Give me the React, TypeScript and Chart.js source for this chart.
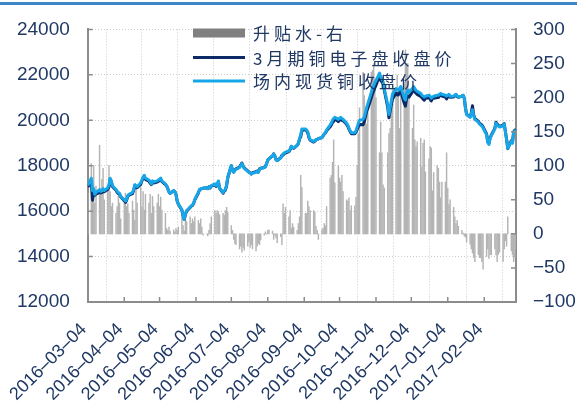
import React, { useEffect, useRef } from 'react';
import { Chart, registerables } from 'chart.js';

Chart.register(...registerables);

// ---- categories / labels ----
const SERIES_NAMES = ['升贴水-右', '3月期铜电子盘收盘价', '场内现货铜收盘价'];
const START_DATE = '2016-03-04';
const END_DATE = '2017-03-03';
const TICK_DATES = [
  '2016-03-04', '2016-04-04', '2016-05-04', '2016-06-04', '2016-07-04', '2016-08-04',
  '2016-09-04', '2016-10-04', '2016-11-04', '2016-12-04', '2017-01-04', '2017-02-04',
];

// ---- series: one value per weekday from START_DATE to END_DATE ----
const SPOT = [
  // 2016-03
  17120, 17450, 16900, 16990, 16740, 16820, 16950, 16860, 16900, 16990, 16900, 17030, 17160, 17450, 17330, 17120, 16950, 16860, 16820, 16780,
  // 2016-04
  16650, 16500, 16440, 16520, 16690, 16735, 16820, 16950, 17160, 17120, 17075, 17245, 17370, 17500, 17580, 17455, 17370, 17285, 17200, 17330, 17285,
  // 2016-05
  17330, 17370, 17410, 17455, 17330, 17200, 17120, 16990, 16860, 16780, 16905, 16860, 16735, 16440, 16310, 16060, 15800, 15630, 15890, 16015, 16185, 16230,
  // 2016-06
  16270, 16355, 16520, 16820, 16950, 16990, 17000, 17010, 17030, 16990, 17075, 17030, 17120, 17200, 17120, 17160, 17330, 17030, 16820, 16905, 16950, 17160,
  // 2016-07
  17500, 18010, 17795, 17710, 17795, 17840, 17920, 18010, 18090, 17965, 17880, 17755, 17710, 17670, 17625, 17670, 17710, 17755, 17710, 17840, 17880,
  // 2016-08
  17920, 17965, 18090, 18260, 18305, 18430, 18515, 18430, 18260, 18220, 18345, 18430, 18515, 18560, 18600, 18645, 18730, 18855, 18815, 18770, 18900, 18985, 19195,
  // 2016-09
  19365, 19620, 19620, 19575, 19490, 19280, 19150, 19070, 19110, 19150, 19150, 19190, 19235, 19320, 19405, 19450, 19575, 19790, 19875, 20000, 20085, 20130,
  // 2016-10
  20040, 20085, 20130, 20085, 20040, 19875, 19790, 19660, 19535, 19450, 19450, 19535, 19705, 19875, 20000, 20040, 20130, 20340, 20550, 20720, 21230,
  // 2016-11
  21400, 21525, 21655, 21740, 22080, 21910, 21825, 21695, 21400, 20680, 20255, 20550, 20850, 21145, 21400, 21355, 21315, 21400, 21485, 20975, 20890, 21230,
  // 2016-12
  21315, 21230, 21400, 21485, 21400, 21315, 21270, 21185, 21100, 21060, 21020, 21060, 21100, 21060, 20975, 21020, 21060, 21100, 21100, 21145, 21185, 21145,
  // 2017-01
  21100, 21060, 21100, 21145, 21060, 21060, 21100, 21145, 21060, 21020, 21060, 21100, 20975, 20550, 20255, 20130, 20300, 20465, 20210, 20040, 19915, 19830,
  // 2017-02
  19790, 19745, 19660, 19365, 19025, 18940, 19195, 19320, 19620, 19875, 19790, 19745, 19705, 19745, 19830, 19490, 19150, 18770, 19070, 18985,
  // 2017-03
  19450, 19535, 19490,
];

const FUTURES = [
  // 2016-03
  17060, 17300, 16480, 16850, 16700, 16750, 16820, 16800, 16820, 16890, 16850, 16960, 17060, 17390, 17290, 17080, 16920, 16820, 16770, 16740,
  // 2016-04
  16630, 16460, 16380, 16480, 16650, 16700, 16770, 16910, 17140, 17050, 17030, 17180, 17330, 17440, 17540, 17400, 17320, 17230, 17170, 17280, 17240,
  // 2016-05
  17280, 17310, 17370, 17400, 17300, 17170, 17110, 16990, 16850, 16780, 16900, 16860, 16730, 16440, 16300, 16040, 15790, 15630, 15870, 16000, 16160, 16220,
  // 2016-06
  16250, 16340, 16500, 16800, 16940, 16970, 16990, 17010, 17030, 16990, 17070, 17020, 17100, 17170, 17090, 17130, 17300, 17000, 16790, 16880, 16920, 17120,
  // 2016-07
  17470, 18000, 17790, 17720, 17810, 17860, 17940, 18030, 18120, 17990, 17900, 17770, 17720, 17690, 17640, 17690, 17740, 17770, 17720, 17860, 17890,
  // 2016-08
  17920, 17960, 18090, 18250, 18300, 18430, 18520, 18430, 18270, 18230, 18350, 18450, 18470, 18530, 18560, 18620, 18700, 18850, 18800, 18760, 18900, 18970, 19170,
  // 2016-09
  19280, 19550, 19590, 19540, 19440, 19240, 19120, 19040, 19080, 19140, 19150, 19200, 19230, 19310, 19390, 19440, 19540, 19710, 19790, 19900, 19950, 20060,
  // 2016-10
  19940, 20000, 20050, 20000, 19980, 19830, 19740, 19610, 19500, 19410, 19410, 19480, 19600, 19730, 19810, 19800, 19930, 20150, 20390, 20520, 20990,
  // 2016-11
  21160, 21280, 21430, 21540, 21960, 21750, 21710, 21620, 21330, 20560, 20110, 20400, 20670, 20930, 21200, 21120, 21110, 21250, 21280, 20750, 20620, 20980,
  // 2016-12
  21070, 21020, 21250, 21300, 21260, 21190, 21140, 21050, 21000, 20930, 20880, 20970, 20990, 20930, 20850, 20960, 20970, 21000, 21000, 21070, 21130, 21070,
  // 2017-01
  21020, 20940, 21030, 21100, 21010, 21020, 21080, 21130, 21040, 21010, 21060, 21100, 20980, 20560, 20270, 20150, 20320, 20640, 20250, 20080, 19950, 19870,
  // 2017-02
  19830, 19790, 19710, 19400, 19050, 18980, 19230, 19350, 19640, 19910, 19830, 19780, 19730, 19790, 19850, 19500, 19170, 18750, 19100, 19020,
  // 2017-03
  19490, 19570, 19510,
];

const BASIS = [
  // 2016-03
  60, 103, 55, 100, 45, 70, 130, 60, 80, 96, 50, 70, 100, 62, 40, 45, 30, 40, 55, 45,
  // 2016-04
  22, 44, 60, 40, 44, 30, 48, 35, 20, 68, 45, 68, 40, 62, 35, 58, 45, 58, 30, 55, 40,
  // 2016-05
  45, 58, 40, 54, 35, 30, 8, 5, 10, 4, 6, 3, 8, 5, 10, 25, 12, 4, 25, 18, 25, 15,
  // 2016-06
  22, 18, 25, 20, 15, 22, 10, -2, 0, -3, 5, 15, 25, 34, 30, 34, 32, 28, 30, 27, 34, 39,
  // 2016-07
  32, 12, 5, -8, -14, -16, -22, -18, -27, -20, -24, -18, -12, -20, -16, -22, -25, -18, -14, -16, -9,
  // 2016-08
  -2, 3, 0, 5, 6, 4, -8, -2, -6, -13, -4, -16, 44, 30, 39, 25, 34, 8, 15, 10, 5, 15, 25,
  // 2016-09
  86, 68, 30, 30, 48, 40, 34, 34, 32, 11, 5, -8, 6, 8, 15, 12, 40, 82, 86, 105, 138, 75,
  // 2016-10
  100, 82, 76, 86, 62, 50, 48, 53, 34, 41, 41, 54, 100, 147, 185, 237, 203, 185, 161, 195, 237,
  // 2016-11
  240, 250, 228, 200, 119, 164, 119, 72, 67, 119, 147, 155, 181, 213, 203, 233, 203, 155, 203, 222, 270, 250,
  // 2016-12
  250, 213, 155, 189, 138, 128, 135, 140, 98, 133, 138, 91, 110, 128, 126, 63, 90, 100, 96, 76, 53, 76,
  // 2017-01
  76, 119, 67, 43, 50, 39, 25, 15, 20, 11, 5, 1, -3, -5, -12, -15, -22, -28, -35, -41, -30, -35,
  // 2017-02
  -35, -41, -52, -33, -22, -36, -30, -31, -22, -31, -41, -30, -27, -41, -22, -10, -18, 25, -25, -31,
  // 2017-03
  -41, -35, -22,
];

// ---- helpers ----
const DAY_MS = 86400000;
const toDay = (s: string) => {
  const [y, m, d] = s.split('-').map(Number);
  return Math.round(Date.UTC(y, m - 1, d) / DAY_MS);
};
const T0 = toDay(START_DATE);
const T_END = toDay(END_DATE);
const WEEKDAY_OFFSETS: number[] = [];
for (let t = T0; t <= T_END; t++) {
  const wd = new Date(t * DAY_MS).getUTCDay();
  if (wd !== 0 && wd !== 6) WEEKDAY_OFFSETS.push(t - T0);
}
const TICK_OFFSETS = TICK_DATES.map((s) => toDay(s) - T0);
const toPoints = (vals: number[]) =>
  vals.slice(0, WEEKDAY_OFFSETS.length).map((y, i) => ({ x: WEEKDAY_OFFSETS[i], y }));

const TEXT_NAVY = '#1F3864';
const AXIS_GRAY = '#8c8c8c';
const GRID_GRAY = '#cccccc';
const BAR_GRAY = '#b4b4b4';
const LEGEND_GRAY = '#808080';
const NAVY = '#0C2A66';
const LIGHT_BLUE = '#17A7E8';
const TICK_FONT = '"Liberation Sans", Arial, sans-serif';
const CJK_FONT = '"Noto Sans CJK SC", sans-serif';

const headerPlugin = {
  id: 'headerBar',
  beforeDraw(chart: any) {
    const { ctx, width } = chart;
    ctx.save();
    ctx.fillStyle = '#ffffff';
    ctx.fillRect(0, 0, width, chart.height);
    ctx.fillStyle = '#3C87C8';
    ctx.fillRect(0, 2, width, 3);
    ctx.restore();
  },
};

const innerTicksPlugin = {
  id: 'innerTicks',
  afterDraw(chart: any) {
    const { ctx, chartArea: a, scales } = chart;
    ctx.save();
    ctx.strokeStyle = AXIS_GRAY;
    ctx.lineWidth = 1.5;
    ctx.beginPath();
    scales.y.ticks.forEach((t: any) => {
      const p = scales.y.getPixelForValue(t.value);
      ctx.moveTo(a.left, p);
      ctx.lineTo(a.left + 5, p);
    });
    scales.y1.ticks.forEach((t: any) => {
      const p = scales.y1.getPixelForValue(t.value);
      ctx.moveTo(a.right - 5, p);
      ctx.lineTo(a.right, p);
    });
    scales.x.ticks.forEach((t: any) => {
      const p = scales.x.getPixelForValue(t.value);
      ctx.moveTo(p, a.bottom);
      ctx.lineTo(p, a.bottom - 5);
    });
    ctx.stroke();
    ctx.restore();
  },
};

const legendPlugin = {
  id: 'insideLegend',
  afterDatasetsDraw(chart: any) {
    const { ctx } = chart;
    const rows = [33, 57.5, 81];
    const x0 = 193;
    const x1 = 245;
    const tx = 253;
    const spacing = 4;
    ctx.save();
    ctx.fillStyle = LEGEND_GRAY;
    ctx.fillRect(x0, rows[0] - 4.5, x1 - x0, 9);
    ctx.lineWidth = 3;
    ctx.strokeStyle = NAVY;
    ctx.beginPath();
    ctx.moveTo(x0, rows[1]);
    ctx.lineTo(x1, rows[1]);
    ctx.stroke();
    ctx.strokeStyle = LIGHT_BLUE;
    ctx.beginPath();
    ctx.moveTo(x0, rows[2]);
    ctx.lineTo(x1, rows[2]);
    ctx.stroke();
    ctx.fillStyle = TEXT_NAVY;
    ctx.font = `17px ${CJK_FONT}`;
    ctx.textBaseline = 'middle';
    ctx.textAlign = 'left';
    SERIES_NAMES.forEach((label, i) => {
      let x = tx;
      for (const ch of label) {
        ctx.fillText(ch, x, rows[i] + 1);
        x += ctx.measureText(ch).width + spacing;
      }
    });
    ctx.restore();
  },
};

export default function App() {
  const canvasRef = useRef<HTMLCanvasElement | null>(null);

  useEffect(() => {
    document.body.style.margin = '0';
    document.documentElement.style.overflow = 'hidden';
    const canvas = canvasRef.current;
    if (!canvas) return;

    const chart = new Chart(canvas, {
      type: 'bar',
      data: {
        datasets: [
          {
            type: 'line',
            label: SERIES_NAMES[2],
            data: toPoints(SPOT),
            yAxisID: 'y',
            borderColor: LIGHT_BLUE,
            backgroundColor: LIGHT_BLUE,
            borderWidth: 3,
            pointRadius: 0,
            tension: 0,
            borderJoinStyle: 'round',
            order: 1,
          },
          {
            type: 'line',
            label: SERIES_NAMES[1],
            data: toPoints(FUTURES),
            yAxisID: 'y',
            borderColor: NAVY,
            backgroundColor: NAVY,
            borderWidth: 3,
            pointRadius: 0,
            tension: 0,
            borderJoinStyle: 'round',
            order: 2,
          },
          {
            type: 'bar',
            label: SERIES_NAMES[0],
            data: toPoints(BASIS),
            yAxisID: 'y1',
            backgroundColor: BAR_GRAY,
            borderWidth: 0,
            barThickness: 0.8,
            order: 3,
          },
        ],
      } as any,
      options: {
        animation: false,
        responsive: false,
        events: [],
        layout: { padding: { top: 19, left: 0, right: 0, bottom: 0 } },
        plugins: {
          legend: { display: false },
          tooltip: { enabled: false },
        },
        scales: {
          x: {
            type: 'linear',
            min: 0,
            max: 364,
            offset: false,
            afterBuildTicks: (s: any) => {
              s.ticks = TICK_OFFSETS.map((v) => ({ value: v }));
            },
            afterFit: (s: any) => {
              s.height = 99;
            },
            ticks: {
              autoSkip: false,
              maxRotation: 45,
              minRotation: 45,
              padding: 17,
              labelOffset: -4,
              color: TEXT_NAVY,
              font: { family: TICK_FONT, size: 18 },
              callback: (v: any) => {
                const idx = TICK_OFFSETS.indexOf(Number(v));
                return idx >= 0 ? TICK_DATES[idx].replace(/-/g, '–') : '';
              },
            },
            grid: { color: GRID_GRAY, lineWidth: 1, drawTicks: false },
            border: { display: true, color: AXIS_GRAY, width: 2, dash: [1, 2] },
          },
          y: {
            position: 'left',
            min: 12000,
            max: 24000,
            afterFit: (s: any) => {
              s.width = 80;
            },
            ticks: {
              stepSize: 2000,
              padding: 18,
              color: TEXT_NAVY,
              font: { family: TICK_FONT, size: 19 },
              callback: (v: any) => String(v),
            },
            grid: { color: GRID_GRAY, lineWidth: 1, drawTicks: false },
            border: { display: true, color: AXIS_GRAY, width: 2, dash: [1, 2] },
          },
          y1: {
            position: 'right',
            min: -100,
            max: 300,
            afterFit: (s: any) => {
              s.width = 61;
            },
            ticks: {
              stepSize: 50,
              padding: 17,
              color: TEXT_NAVY,
              font: { family: TICK_FONT, size: 19 },
              callback: (v: any) => (Number(v) < 0 ? '−' + Math.abs(Number(v)) : String(v)),
            },
            grid: { display: false, drawTicks: false },
            border: { display: true, color: AXIS_GRAY, width: 2 },
          },
        },
      } as any,
      plugins: [headerPlugin, innerTicksPlugin, legendPlugin],
    });

    return () => {
      chart.destroy();
    };
  }, []);

  return (
    <div style={{ width: 577, height: 401, position: 'relative' }}>
      <canvas ref={canvasRef} width={577} height={401} style={{ display: 'block' }} />
    </div>
  );
}
